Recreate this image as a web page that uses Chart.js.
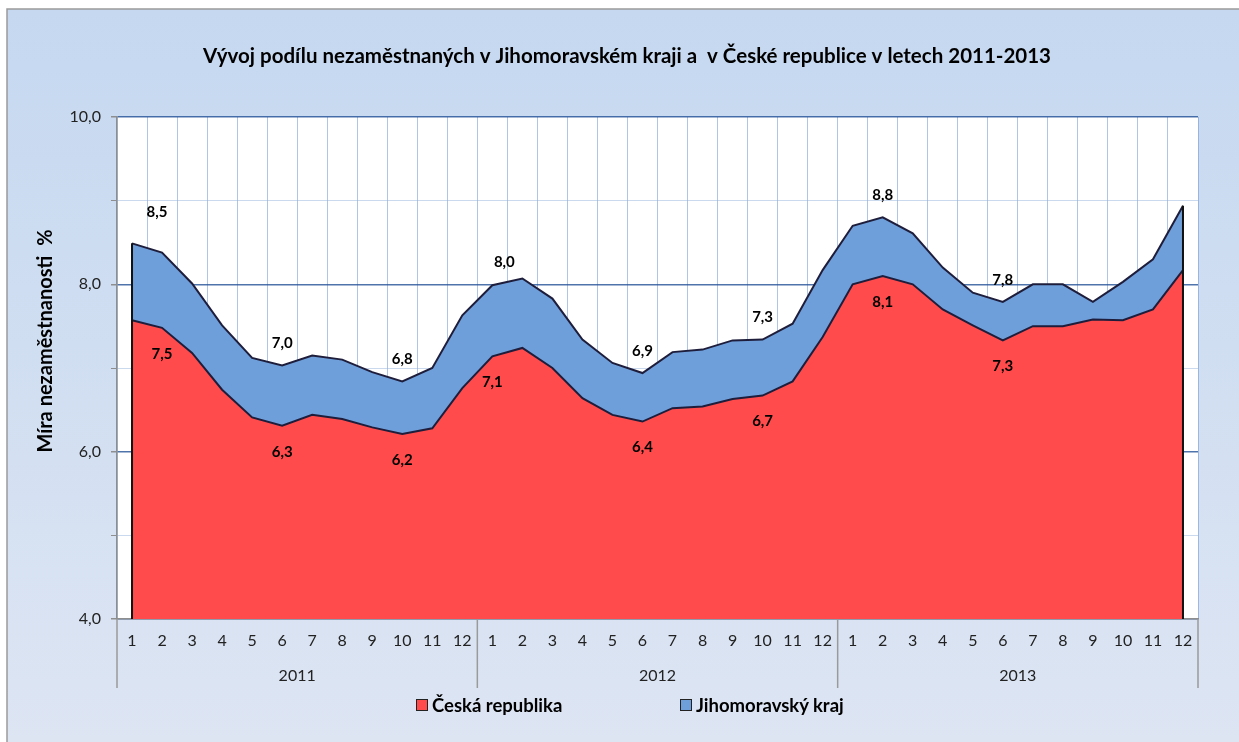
<!DOCTYPE html>
<html>
<head>
<meta charset="utf-8">
<script src="https://cdn.jsdelivr.net/npm/chart.js@4/dist/chart.umd.min.js"></script>
<style>
    body { margin: 0; background: #fff; }
    #wrap { position: relative; width: 1239px; height: 742px; }
    #legenda { position: absolute; top: 694px; left: 416px; font: bold 18.5px Lato, sans-serif; color: #000; }
    #legenda span.item { position: absolute; white-space: nowrap; display: flex; align-items: center; }
    #legenda i { display: inline-block; width: 10px; height: 10px; border: 1.5px solid #222; margin-right: 4px; }
</style>
</head>
<body>
<div id="wrap">
    <canvas id="grafNezam" width="1239" height="742"></canvas>
    <div id="legenda">
        <span class="item" style="left:0"><i style="background:#FF4B4B"></i>Česká republika</span>
        <span class="item" style="left:264px"><i style="background:#6E9FDA"></i>Jihomoravský kraj</span>
    </div>
</div>
<script>
const roky = ['2011', '2012', '2013'];
const mesice = ['1','2','3','4','5','6','7','8','9','10','11','12'];
const kategorie = roky.flatMap(() => mesice);

// mira nezamestnanosti v %
const ceskaRepublika = [
    7.57, 7.48, 7.18, 6.74, 6.41, 6.31, 6.44, 6.39, 6.29, 6.21, 6.28, 6.76,
    7.14, 7.24, 7.00, 6.64, 6.44, 6.36, 6.52, 6.54, 6.63, 6.67, 6.84, 7.37,
    8.00, 8.10, 8.00, 7.70, 7.51, 7.33, 7.50, 7.50, 7.58, 7.57, 7.70, 8.17
];
const jihomoravskyKraj = [
    8.49, 8.38, 8.01, 7.51, 7.12, 7.03, 7.15, 7.10, 6.95, 6.84, 7.00, 7.63,
    7.99, 8.07, 7.83, 7.34, 7.06, 6.94, 7.19, 7.22, 7.33, 7.34, 7.53, 8.17,
    8.70, 8.80, 8.61, 8.20, 7.90, 7.79, 8.00, 8.00, 7.79, 8.03, 8.30, 8.94
];
const yTicky = [4, 6, 8, 10];

// ktere body maji popisek
const popiskyCR = [1, 5, 9, 12, 17, 21, 25, 29];
const popiskyJMK = [0, 5, 9, 12, 17, 21, 25, 29];

const FONT = 'Lato, sans-serif';
const fmt = v => v.toFixed(1).replace('.', ',');

const kresleni = {
    id: 'kresleni',
    beforeDraw(chart) {
        const { ctx, chartArea: a } = chart;
        ctx.save();
        ctx.fillStyle = '#fff';
        ctx.fillRect(0, 0, chart.width, chart.height);
        const g = ctx.createLinearGradient(0, 9, 0, chart.height);
        g.addColorStop(0, '#C5D8F0');
        g.addColorStop(1, '#DDE5F3');
        ctx.fillStyle = g;
        ctx.fillRect(7, 9, chart.width - 7, chart.height - 9);
        ctx.strokeStyle = '#9A9A9A';
        ctx.lineWidth = 1.5;
        ctx.beginPath();
        ctx.moveTo(7, chart.height);
        ctx.lineTo(7, 9);
        ctx.lineTo(chart.width, 9);
        ctx.stroke();
        ctx.fillStyle = '#fff';
        ctx.fillRect(a.left, a.top, a.right - a.left, a.bottom - a.top);
        ctx.restore();
    },
    afterDraw(chart) {
        const { ctx, chartArea: a } = chart;
        const x = chart.scales.x, y = chart.scales.y;
        ctx.save();

        // svisle okraje ploch
        ctx.strokeStyle = '#111';
        ctx.lineWidth = 2;
        [0, kategorie.length - 1].forEach(i => {
            const px = x.getPixelForValue(i);
            ctx.beginPath();
            ctx.moveTo(px, y.getPixelForValue(jihomoravskyKraj[i]));
            ctx.lineTo(px, a.bottom);
            ctx.stroke();
        });

        // oddelovace roku
        ctx.strokeStyle = '#9A9A9A';
        ctx.lineWidth = 1.5;
        const hranice = [a.left];
        for (let r = 1; r < roky.length; r++) {
            const i = r * mesice.length;
            hranice.push((x.getPixelForValue(i - 1) + x.getPixelForValue(i)) / 2);
        }
        hranice.push(a.right);
        hranice.forEach(px => {
            ctx.beginPath();
            ctx.moveTo(px, a.bottom);
            ctx.lineTo(px, a.bottom + 69);
            ctx.stroke();
        });

        // popisky hodnot
        ctx.font = 'bold 15px ' + FONT;
        ctx.fillStyle = '#000';
        ctx.textAlign = 'center';
        ctx.textBaseline = 'middle';
        const posunJMK = { 0: [25, -31], 12: [12, -23] };
        popiskyJMK.forEach(i => {
            const s = posunJMK[i] || [0, -22];
            ctx.fillText(fmt(jihomoravskyKraj[i]), x.getPixelForValue(i) + s[0], y.getPixelForValue(jihomoravskyKraj[i]) + s[1]);
        });
        popiskyCR.forEach(i => {
            ctx.fillText(fmt(ceskaRepublika[i]), x.getPixelForValue(i), y.getPixelForValue(ceskaRepublika[i]) + 26);
        });

        // titulek
        ctx.font = 'bold 20.5px ' + FONT;
        ctx.fillText('Vývoj podílu nezaměstnaných v Jihomoravském kraji a  v České republice v letech 2011-2013', 627, 56);

        // popis osy y
        ctx.translate(46, 341);
        ctx.rotate(-Math.PI / 2);
        ctx.font = 'bold 20px ' + FONT;
        ctx.fillText('Míra nezaměstnanosti  %', 0, 0);
        ctx.restore();
    }
};

document.addEventListener('DOMContentLoaded', function() {
    const ctx = document.getElementById('grafNezam').getContext('2d');
    new Chart(ctx, {
        type: 'line',
        data: {
            labels: kategorie,
            datasets: [{
                label: 'Česká republika',
                data: ceskaRepublika,
                backgroundColor: '#FF4B4B',
                borderColor: '#1E1E3C',
                borderWidth: 2,
                fill: 'start',
                pointRadius: 0,
                tension: 0
            }, {
                label: 'Jihomoravský kraj',
                data: jihomoravskyKraj,
                backgroundColor: '#6E9FDA',
                borderColor: '#1E1E3C',
                borderWidth: 2,
                fill: 'start',
                pointRadius: 0,
                tension: 0
            }]
        },
        options: {
            responsive: false,
            animation: false,
            layout: { padding: { top: 117, right: 41, bottom: 46, left: 10 } },
            plugins: {
                legend: { display: false },
                tooltip: { enabled: false },
                title: { display: false }
            },
            scales: {
                x: {
                    offset: true,
                    z: 1,
                    grid: {
                        offset: true,
                        drawTicks: false,
                        color: 'rgba(110,150,210,0.55)',
                        lineWidth: 1
                    },
                    border: { color: '#8E8E8E', width: 1.5 },
                    ticks: { color: '#222', font: { family: FONT, size: 16 }, padding: 12, autoSkip: false, maxRotation: 0 },
                    afterFit(s) { s.height = 37; }
                },
                x2: {
                    type: 'category',
                    labels: roky,
                    offset: true,
                    position: 'bottom',
                    grid: { display: false, drawTicks: false },
                    border: { display: false },
                    ticks: { color: '#222', font: { family: FONT, size: 16 }, padding: 10 },
                    afterFit(s) { s.height = 40; }
                },
                y: {
                    min: 4,
                    max: 10,
                    z: 1,
                    ticks: {
                        stepSize: 1,
                        color: '#222',
                        font: { family: FONT, size: 16 },
                        padding: 10,
                        callback: v => yTicky.includes(v) ? fmt(v) : ''
                    },
                    grid: {
                        color: c => yTicky.includes(c.tick.value) ? 'rgba(35,80,150,0.8)' : 'rgba(150,180,220,0.5)',
                        lineWidth: c => yTicky.includes(c.tick.value) ? 1.5 : 1,
                        tickColor: '#8E8E8E',
                        tickLength: 6
                    },
                    border: { color: '#8E8E8E', width: 1.5 },
                    afterFit(s) { s.width = 107; }
                }
            }
        },
        plugins: [kresleni]
    });
});
</script>
</body>
</html>
